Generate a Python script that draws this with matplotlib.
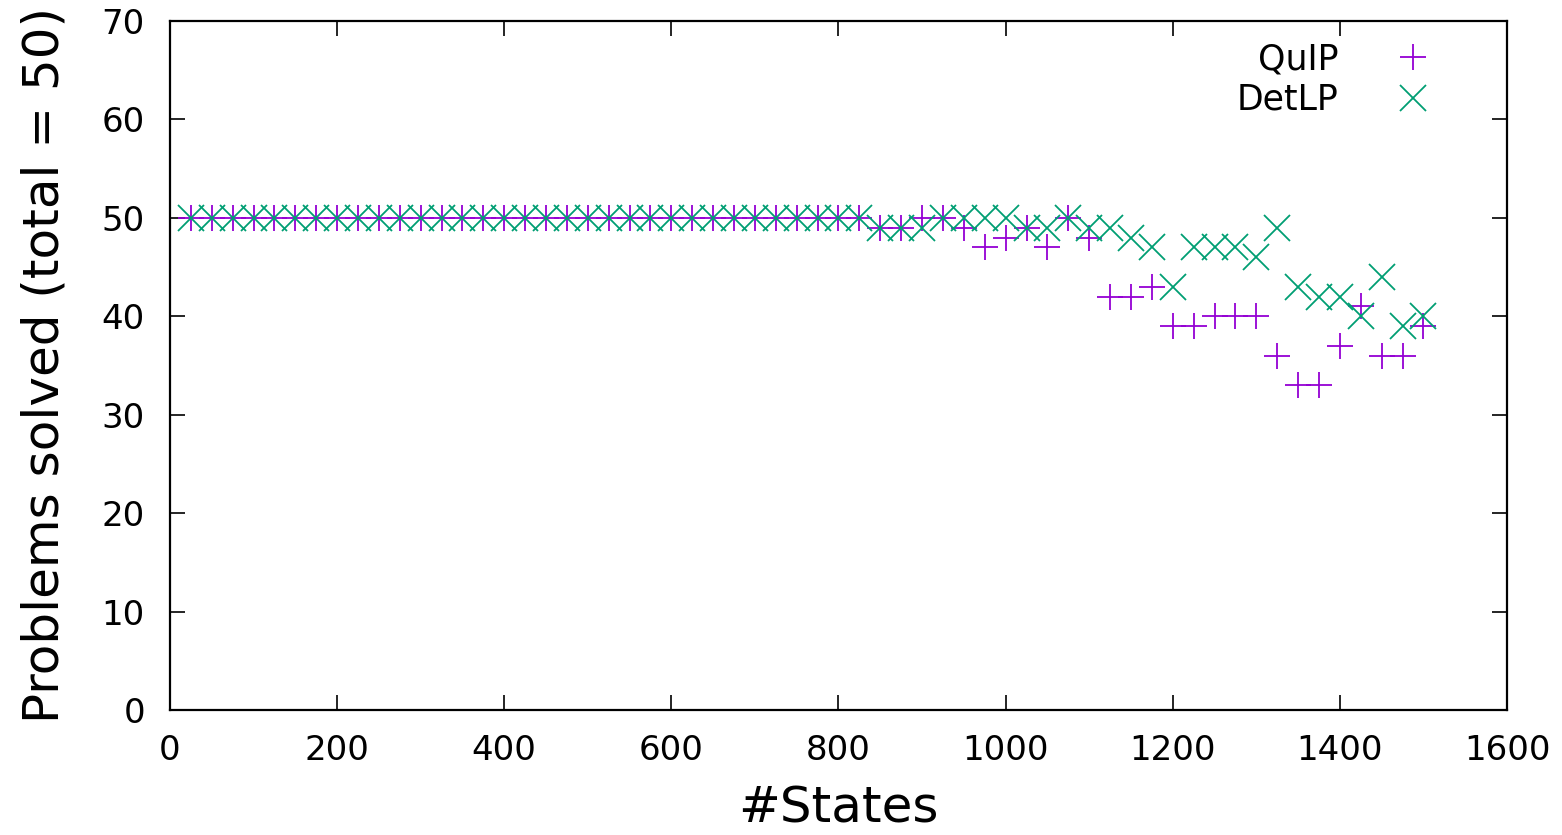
import matplotlib
matplotlib.use("Agg")
import matplotlib.pyplot as plt

# number of states per benchmark group
states = [25, 50, 75, 100, 125, 150, 175, 200, 225, 250,
          275, 300, 325, 350, 375, 400, 425, 450, 475, 500,
          525, 550, 575, 600, 625, 650, 675, 700, 725, 750,
          775, 800, 825, 850, 875, 900, 925, 950, 975, 1000,
          1025, 1050, 1075, 1100, 1125, 1150, 1175, 1200, 1225, 1250,
          1275, 1300, 1325, 1350, 1375, 1400, 1425, 1450, 1475, 1500]

quip = [50, 50, 50, 50, 50, 50, 50, 50, 50, 50,
        50, 50, 50, 50, 50, 50, 50, 50, 50, 50,
        50, 50, 50, 50, 50, 50, 50, 50, 50, 50,
        50, 50, 50, 49, 49, 50, 50, 49, 47, 48,
        49, 47, 50, 48, 42, 42, 43, 39, 39, 40,
        40, 40, 36, 33, 33, 37, 41, 36, 36, 39]

detlp = [50, 50, 50, 50, 50, 50, 50, 50, 50, 50,
         50, 50, 50, 50, 50, 50, 50, 50, 50, 50,
         50, 50, 50, 50, 50, 50, 50, 50, 50, 50,
         50, 50, 50, 49, 49, 49, 50, 50, 50, 50,
         49, 49, 50, 49, 49, 48, 47, 43, 47, 47,
         47, 46, 49, 43, 42, 42, 40, 44, 39, 40]

xticks = [0, 200, 400, 600, 800, 1000, 1200, 1400, 1600]
yticks = [0, 10, 20, 30, 40, 50, 60, 70]

fig = plt.figure(figsize=(15.62, 8.35), dpi=100)
ax = fig.add_axes([0.1088, 0.1497, 0.8560, 0.8252])

ax.plot(states, quip, linestyle="none", marker="+", markersize=19,
        markeredgewidth=1.3, color="#9400d3", label="QuIP")
ax.plot(states, detlp, linestyle="none", marker="x", markersize=19,
        markeredgewidth=1.3, color="#009e73", label="DetLP")

ax.set_xlim(0, 1600)
ax.set_ylim(0, 70)
ax.set_xticks(xticks)
ax.set_yticks(yticks)
ax.tick_params(direction="in", length=11, width=1.2, top=True, right=True,
               labelsize=24.5)
ax.tick_params(axis="x", pad=17)
ax.tick_params(axis="y", pad=18)
for s in ax.spines.values():
    s.set_linewidth(1.6)

ax.set_xlabel("#States", fontsize=36, labelpad=13)
ax.set_ylabel("Problems solved (total = 50)", fontsize=36, labelpad=24)

leg = ax.legend(loc="upper right", markerfirst=False, frameon=False,
                fontsize=25, handletextpad=1.16, labelspacing=0.18,
                borderaxespad=0.22, bbox_to_anchor=(0.972, 1.0))
for t in leg.get_texts():
    t.set_ha("right")

fig.savefig("out.png", dpi=100)
